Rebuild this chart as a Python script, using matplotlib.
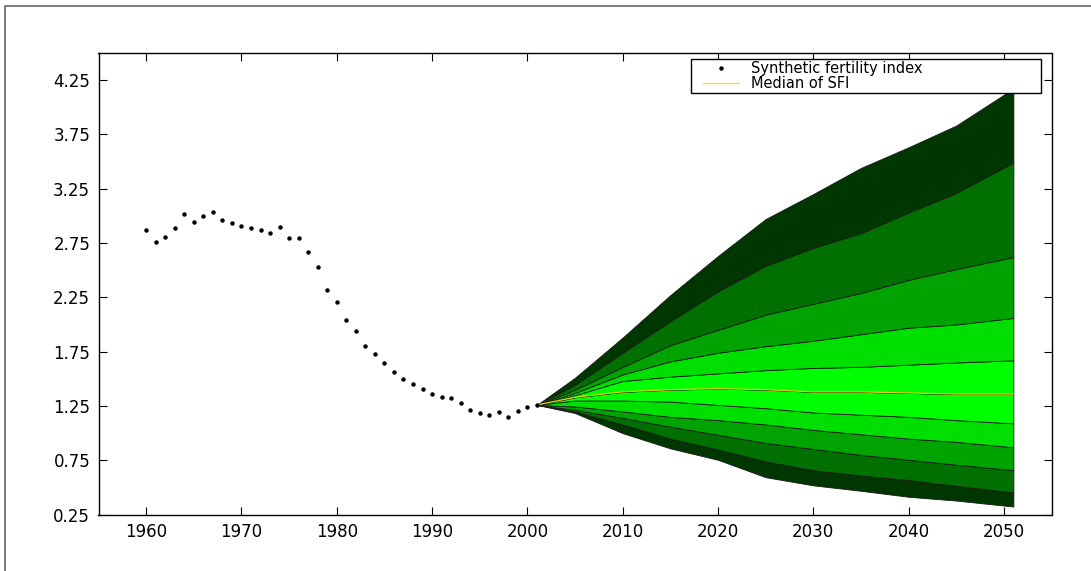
import matplotlib
matplotlib.use("Agg")
import matplotlib.pyplot as plt
from matplotlib.patches import Rectangle
from matplotlib.lines import Line2D

# ---------------- data ----------------
hist_years = list(range(1960, 2002))
hist_sfi = [2.865, 2.763, 2.803, 2.883, 3.015, 2.945, 2.994, 3.037, 2.963, 2.936,
            2.904, 2.883, 2.865, 2.844, 2.895, 2.794, 2.794, 2.665, 2.533, 2.314,
            2.204, 2.042, 1.943, 1.802, 1.731, 1.642, 1.562, 1.501, 1.452, 1.402,
            1.362, 1.332, 1.323, 1.273, 1.212, 1.181, 1.169, 1.194, 1.148, 1.203,
            1.243, 1.261]

fan_years = [2001, 2005, 2010, 2015, 2020, 2025, 2030, 2035, 2040, 2045, 2051]
q_top = [1.26, 1.51, 1.88, 2.27, 2.63, 2.97, 3.20, 3.44, 3.63, 3.83, 4.17]
q_9 = [1.26, 1.445, 1.74, 2.03, 2.305, 2.54, 2.705, 2.84, 3.03, 3.21, 3.49]
q_8 = [1.26, 1.40, 1.61, 1.81, 1.95, 2.09, 2.19, 2.29, 2.41, 2.51, 2.62]
q_7 = [1.26, 1.37, 1.54, 1.66, 1.74, 1.80, 1.85, 1.91, 1.97, 2.00, 2.06]
q_6 = [1.26, 1.35, 1.48, 1.52, 1.55, 1.58, 1.60, 1.61, 1.63, 1.65, 1.67]
q_med = [1.26, 1.33, 1.38, 1.40, 1.41, 1.40, 1.38, 1.38, 1.37, 1.36, 1.36]
q_4 = [1.26, 1.30, 1.30, 1.29, 1.26, 1.23, 1.19, 1.17, 1.15, 1.12, 1.09]
q_3 = [1.26, 1.245, 1.20, 1.15, 1.12, 1.08, 1.03, 0.99, 0.95, 0.92, 0.87]
q_2 = [1.26, 1.215, 1.14, 1.06, 0.985, 0.91, 0.855, 0.80, 0.755, 0.71, 0.66]
q_1 = [1.26, 1.20, 1.08, 0.95, 0.85, 0.74, 0.66, 0.61, 0.57, 0.515, 0.455]
q_bot = [1.26, 1.185, 1.00, 0.86, 0.755, 0.595, 0.52, 0.47, 0.415, 0.38, 0.325]

x_ticks = [1960, 1970, 1980, 1990, 2000, 2010, 2020, 2030, 2040, 2050]
y_ticks = [0.25, 0.75, 1.25, 1.75, 2.25, 2.75, 3.25, 3.75, 4.25]
y_tick_labels = ["0.25", "0.75", "1.25", "1.75", "2.25", "2.75", "3.25", "3.75", "4.25"]

legend_labels = ["Synthetic fertility index", "Median of SFI"]

# ---------------- style ----------------
plt.rcParams['font.family'] = ['DejaVu Sans']
W, H = 1091, 571
fig = plt.figure(figsize=(W / 100, H / 100), dpi=100)
fig.patch.set_facecolor('white')

ax_l, ax_r = 98.5 / W, 1051.5 / W
ax_t, ax_b = 1 - 52.7 / H, 1 - 514.7 / H
ax = fig.add_axes([ax_l, ax_b, ax_r - ax_l, ax_t - ax_b])

c_darkest = (0.0, 0.21, 0.0)
c_dark = (0.0, 0.44, 0.0)
c_mid = (0.0, 0.64, 0.0)
c_light = (0.0, 0.88, 0.0)
c_bright = (0.0, 1.0, 0.0)

bounds = [q_bot, q_1, q_2, q_3, q_4, q_med, q_6, q_7, q_8, q_9, q_top]
colors = [c_darkest, c_dark, c_mid, c_light, c_bright,
          c_bright, c_light, c_mid, c_dark, c_darkest]

for i in range(len(bounds) - 1):
    ax.fill_between(fan_years, bounds[i], bounds[i + 1], facecolor=colors[i],
                    edgecolor='#1a1a1a', linewidth=0.6, zorder=2)

ax.plot(fan_years, q_med, color='#e8d000', lw=0.9, zorder=3)
ax.plot(hist_years, hist_sfi, linestyle='none', marker='o', markersize=2.2,
        color='black', zorder=4)

ax.set_xlim(1955, 2055)
ax.set_ylim(0.25, 4.5)
ax.set_xticks(x_ticks)
ax.set_yticks(y_ticks)
ax.set_yticklabels(y_tick_labels)
ax.tick_params(direction='in', length=6, width=0.8, top=True, right=True,
               labelsize=12, pad=6, colors='black')
for s in ax.spines.values():
    s.set_linewidth(1.0)
    s.set_color('black')

# legend: MATLAB-style box drawn separately, entries placed inside
box_l, box_r, box_t, box_b = 691, 1041, 59, 93
fig.patches.append(Rectangle((box_l / W, 1 - box_b / H), (box_r - box_l) / W,
                             (box_b - box_t) / H, transform=fig.transFigure,
                             facecolor='white', edgecolor='black', linewidth=1.0,
                             zorder=5))
handles = [Line2D([], [], linestyle='none', marker='o', markersize=2.2, color='black'),
           Line2D([], [], color='#f0e030', lw=1.0)]
leg = fig.legend(handles, legend_labels, loc='upper left',
                 bbox_to_anchor=(703 / W, 1 - 61.3 / H), borderaxespad=0,
                 frameon=False, fontsize=10.5, labelspacing=0.0, borderpad=0,
                 handlelength=2.45, handletextpad=0.82)
leg.set_zorder(6)

# outer figure frame (partially visible)
fig.patches.append(Rectangle((5 / W, -0.1), 1.2, 1 - 5.5 / H + 0.1,
                             transform=fig.transFigure, fill=False,
                             edgecolor='#666666', linewidth=1.2, zorder=0))

fig.savefig('out.png', dpi=100)
